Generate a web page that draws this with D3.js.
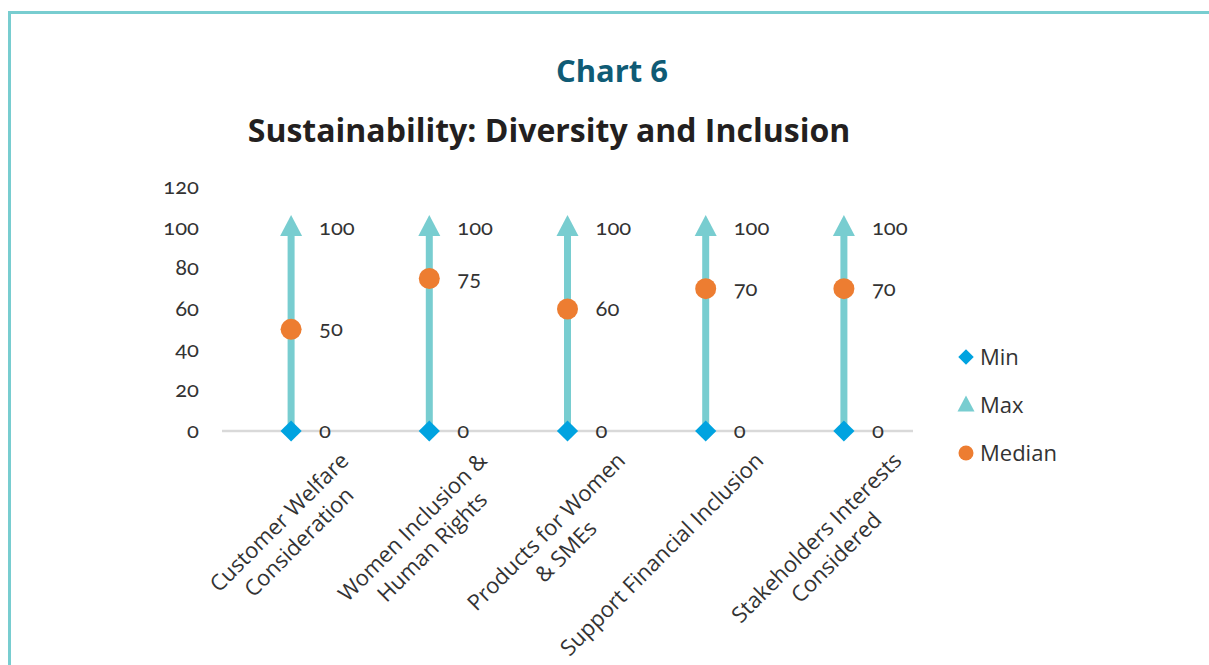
<!DOCTYPE html>
<html>
<head>
<meta charset="utf-8">
<script src="https://cdn.jsdelivr.net/npm/d3@7"></script>
<style>
  html, body { margin: 0; padding: 0; background: #fff; }
  svg { display: block; }
  .num { font-family: Lato, "Noto Sans", sans-serif; font-variant-numeric: oldstyle-nums; }
</style>
</head>
<body>
<svg id="chart" width="1209" height="665"></svg>
<script>
// Indicator categories (line breaks as shown on the axis)
const categories = [
  ["Customer Welfare", "Consideration"],
  ["Women Inclusion &", "Human Rights"],
  ["Products for Women", "& SMEs"],
  ["Support Financial Inclusion"],
  ["Stakeholders Interests", "Considered"]
];
const minValues    = [0, 0, 0, 0, 0];
const maxValues    = [100, 100, 100, 100, 100];
const medianValues = [50, 75, 60, 70, 70];
const yTicks       = [0, 20, 40, 60, 80, 100, 120];
const seriesNames  = ["Min", "Max", "Median"];

const W = 1209, H = 665;
const teal = "#78cdd0", blue = "#00a3e0", orange = "#ed7d31";
const textColor = "#333333";

const svg = d3.select("#chart");

// frame
svg.append("path")
  .attr("d", `M9.5,${H} V12.5 H${W}`)
  .attr("fill", "none")
  .attr("stroke", teal)
  .attr("stroke-width", 3);

// titles
svg.append("text")
  .attr("x", 612).attr("y", 82)
  .attr("text-anchor", "middle")
  .style("font-family", "'Open Sans', sans-serif")
  .style("font-weight", 700)
  .style("font-size", "31px")
  .attr("fill", "#0f5b75")
  .text("Chart 6");

svg.append("text")
  .attr("x", 549).attr("y", 142)
  .attr("text-anchor", "middle")
  .style("font-family", "'Open Sans', sans-serif")
  .style("font-weight", 700)
  .style("font-size", "32px")
  .attr("fill", "#231f20")
  .text("Sustainability: Diversity and Inclusion");

// scales
const x = d3.scaleBand()
  .domain(d3.range(categories.length))
  .range([222, 913])
  .padding(0);
const y = d3.scaleLinear().domain([0, 120]).range([431, 187]);
const cx = i => x(i) + x.bandwidth() / 2;

// y axis labels (no axis line)
const yAxis = d3.axisLeft(y).tickValues(yTicks).tickSize(0).tickPadding(0);
const gy = svg.append("g").attr("transform", "translate(199,0)").call(yAxis);
gy.select(".domain").remove();
gy.selectAll("text")
  .attr("class", "num")
  .style("font-size", "22px")
  .attr("dy", "0.3em")
  .attr("fill", textColor);

// category baseline
svg.append("line")
  .attr("x1", x.range()[0]).attr("x2", x.range()[1])
  .attr("y1", y(0)).attr("y2", y(0))
  .attr("stroke", "#d9d9d9")
  .attr("stroke-width", 2.5);

const idx = d3.range(categories.length);

// min-to-max stems
svg.append("g").selectAll("line").data(idx).join("line")
  .attr("x1", cx).attr("x2", cx)
  .attr("y1", i => y(minValues[i]))
  .attr("y2", i => y(maxValues[i]) + 6)
  .attr("stroke", teal)
  .attr("stroke-width", 7);

const tri = (w, h) => `M0,${-h * 0.6} L${w / 2},${h * 0.4} L${-w / 2},${h * 0.4} Z`;

// max markers
svg.append("g").selectAll("path").data(idx).join("path")
  .attr("transform", i => `translate(${cx(i)},${y(maxValues[i])})`)
  .attr("d", tri(22, 21))
  .attr("fill", teal);

// median markers
svg.append("g").selectAll("circle").data(idx).join("circle")
  .attr("cx", cx).attr("cy", i => y(medianValues[i]))
  .attr("r", 10.5)
  .attr("fill", orange);

// min markers
svg.append("g").selectAll("path").data(idx).join("path")
  .attr("transform", i => `translate(${cx(i)},${y(minValues[i])}) rotate(45)`)
  .attr("d", d3.symbol().type(d3.symbolSquare).size(15 * 15))
  .attr("fill", blue);

// value labels
const labelSeries = [minValues, maxValues, medianValues];
labelSeries.forEach(vals => {
  svg.append("g").selectAll("text").data(idx).join("text")
    .attr("class", "num")
    .attr("x", i => cx(i) + 28)
    .attr("y", i => y(vals[i]))
    .attr("dy", "0.32em")
    .style("font-size", "22px")
    .attr("fill", textColor)
    .text(i => vals[i]);
});

// rotated category labels, lines centred within each block
const lineH = 28;
const cats = svg.append("g").selectAll("g").data(idx).join("g")
  .attr("transform", i => `translate(${cx(i) + 59},462) rotate(-45)`);
cats.each(function(i) {
  const g = d3.select(this);
  const texts = g.selectAll("text").data(categories[i]).join("text")
    .style("font-family", "'Open Sans', sans-serif")
    .style("font-size", "22px")
    .attr("fill", textColor)
    .attr("text-anchor", "middle")
    .attr("y", (d, k) => k * lineH)
    .text(d => d);
  let maxW = 0;
  texts.each(function() { maxW = Math.max(maxW, this.getComputedTextLength()); });
  texts.attr("x", -maxW / 2);
});

// legend
const legend = svg.append("g").attr("transform", "translate(966,357)");
const legendRows = legend.selectAll("g").data(seriesNames).join("g")
  .attr("transform", (d, k) => `translate(0,${k * 48})`);
legendRows.each(function(d, k) {
  const g = d3.select(this);
  if (k === 0) {
    g.append("path").attr("transform", "rotate(45)")
      .attr("d", d3.symbol().type(d3.symbolSquare).size(11 * 11))
      .attr("fill", blue);
  } else if (k === 1) {
    g.append("path").attr("d", tri(17, 16)).attr("fill", teal);
  } else {
    g.append("circle").attr("r", 7.5).attr("fill", orange);
  }
  g.append("text")
    .attr("x", 14).attr("dy", "0.35em")
    .style("font-family", "'Open Sans', sans-serif")
    .style("font-size", "22px")
    .attr("fill", textColor)
    .text(d);
});
</script>
</body>
</html>
